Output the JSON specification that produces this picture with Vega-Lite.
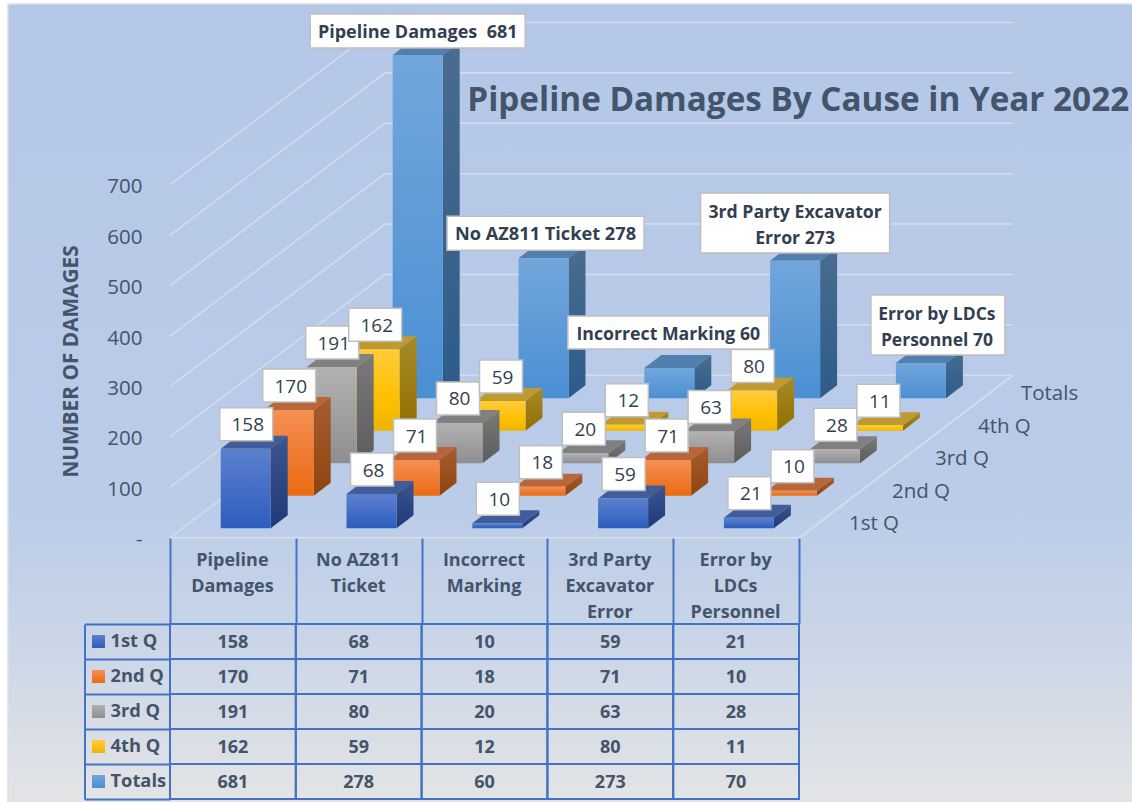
{"$schema":"https://vega.github.io/schema/vega-lite/v6.json","width":1132,"height":802,"padding":0,"autosize":{"type":"none"},"background":"white","view":{"stroke":null},"config":{"axis":{"labels":false,"ticks":false,"domain":false,"grid":false},"view":{"stroke":null}},
"data":{"values":[
{"cause":"Pipeline Damages","quarter":"1st Q","value":158},{"cause":"No AZ811 Ticket","quarter":"1st Q","value":68},{"cause":"Incorrect Marking","quarter":"1st Q","value":10},{"cause":"3rd Party Excavator Error","quarter":"1st Q","value":59},{"cause":"Error by LDCs Personnel","quarter":"1st Q","value":21},
{"cause":"Pipeline Damages","quarter":"2nd Q","value":170},{"cause":"No AZ811 Ticket","quarter":"2nd Q","value":71},{"cause":"Incorrect Marking","quarter":"2nd Q","value":18},{"cause":"3rd Party Excavator Error","quarter":"2nd Q","value":71},{"cause":"Error by LDCs Personnel","quarter":"2nd Q","value":10},
{"cause":"Pipeline Damages","quarter":"3rd Q","value":191},{"cause":"No AZ811 Ticket","quarter":"3rd Q","value":80},{"cause":"Incorrect Marking","quarter":"3rd Q","value":20},{"cause":"3rd Party Excavator Error","quarter":"3rd Q","value":63},{"cause":"Error by LDCs Personnel","quarter":"3rd Q","value":28},
{"cause":"Pipeline Damages","quarter":"4th Q","value":162},{"cause":"No AZ811 Ticket","quarter":"4th Q","value":59},{"cause":"Incorrect Marking","quarter":"4th Q","value":12},{"cause":"3rd Party Excavator Error","quarter":"4th Q","value":80},{"cause":"Error by LDCs Personnel","quarter":"4th Q","value":11},
{"cause":"Pipeline Damages","quarter":"Totals","value":681,"callout":"Pipeline Damages\u00a0 681"},{"cause":"No AZ811 Ticket","quarter":"Totals","value":278,"callout":"No AZ811 Ticket 278"},{"cause":"Incorrect Marking","quarter":"Totals","value":60,"callout":"Incorrect Marking 60"},{"cause":"3rd Party Excavator Error","quarter":"Totals","value":273,"callout":"3rd Party Excavator\nError 273"},{"cause":"Error by LDCs Personnel","quarter":"Totals","value":70,"callout":"Error by LDCs\nPersonnel 70"}
]},
"resolve":{"scale":{"x":"independent","y":"independent"},"axis":{"x":"independent","y":"independent"}},
"layer":[
{"layer":[
{"data":{"values":[{"item":"panel"}]},"mark":{"type":"rect","stroke":"#DDE0E4","strokeWidth":1.5,"fill":{"gradient":"linear","x1":0,"y1":0,"x2":0,"y2":1,"stops":[{"offset":0,"color":"#B4C7E7"},{"offset":0.62,"color":"#BACCE8"},{"offset":0.8,"color":"#CBD6E7"},{"offset":1,"color":"#E5E5E5"}]}},
"encoding":{"x":{"datum":-1.6908,"type":"quantitative","scale":{"domain":[-1.7544,7.244],"nice":false,"zero":false},"axis":{"title":null}},"x2":{"datum":7.3},"y":{"datum":1040.3,"type":"quantitative","scale":{"domain":[-543.06,1048.2],"nice":false,"zero":false}},"y2":{"datum":-560}}},
{"data":{"values":[{"tick":0},{"tick":100},{"tick":200},{"tick":300},{"tick":400},{"tick":500},{"tick":600},{"tick":700}]},
"transform":[{"calculate":"datum.tick-18.7","as":"frontY"},{"calculate":"datum.tick+303.7","as":"backY"}],
"layer":[
{"mark":{"type":"rule","stroke":"#D5DCEA","strokeWidth":1.5},"encoding":{"x":{"datum":-0.4031,"type":"quantitative"},"x2":{"datum":1.3059},"y":{"field":"frontY","type":"quantitative","axis":{"orient":"left","zindex":1,"offset":-142,"values":[0,100,200,300,400,500,600,700],"labels":true,"labelExpr":"datum.value==0?'-':datum.label","labelOffset":11.4,"labelPadding":0,"labelFont":"Open Sans","labelFontSize":20.5,"labelColor":"#44546A","ticks":false,"domain":false,"grid":false,"title":"NUMBER OF DAMAGES","titleFont":"Open Sans","titleFontSize":20.8,"titleFontWeight":"bold","titleColor":"#44546A","titleAngle":-90,"titleX":-71,"titleY":361,"titleAlign":"center","titleBaseline":"middle"}},"y2":{"field":"backY"}}},
{"mark":{"type":"rule","stroke":"#D5DCEA","strokeWidth":1.5},"encoding":{"x":{"datum":1.3059,"type":"quantitative"},"x2":{"datum":6.298},"y":{"field":"backY","type":"quantitative"}}}
]},
{"data":{"values":[{"edge":"floor"}]},"layer":[
{"mark":{"type":"rule","stroke":"#D5DCEA","strokeWidth":2},"encoding":{"x":{"datum":-0.4031,"type":"quantitative"},"x2":{"datum":4.6},"y":{"datum":-18.7,"type":"quantitative"}}},
{"mark":{"type":"rule","stroke":"#D5DCEA","strokeWidth":2},"encoding":{"x":{"datum":4.6,"type":"quantitative"},"x2":{"datum":6.298},"y":{"datum":-18.7,"type":"quantitative"},"y2":{"datum":303.7}}}
]},
{"data":{"values":[{"heading":"Pipeline Damages By Cause in Year 2022"}]},"mark":{"type":"text","align":"left","baseline":"middle","font":"Open Sans","fontSize":33.25,"fontWeight":"bold","color":"#44546A"},"encoding":{"x":{"datum":1.96,"type":"quantitative"},"y":{"datum":848,"type":"quantitative"},"text":{"field":"heading"}}},
{"transform":[
{"calculate":"indexof(['1st Q','2nd Q','3rd Q','4th Q','Totals'],datum.quarter)","as":"depth"},
{"calculate":"indexof(['Pipeline Damages','No AZ811 Ticket','Incorrect Marking','3rd Party Excavator Error','Error by LDCs Personnel'],datum.cause)","as":"col"},
{"calculate":"datum.col+0.3418*datum.depth","as":"xL"},
{"calculate":"datum.xL+0.3975","as":"xR"},
{"calculate":"datum.xL+0.1988","as":"xC"},
{"calculate":"datum.depth*64.48","as":"yB"},
{"calculate":"datum.yB+datum.value","as":"yT"},
{"fold":["near","far"],"as":["corner","unused"]},
{"calculate":"datum.corner=='far'?1:0","as":"k"},
{"calculate":"datum.xR+datum.k*0.1351","as":"sideX"},
{"calculate":"datum.yT+datum.k*25.8","as":"sideTop"},
{"calculate":"datum.yB+datum.k*25.8","as":"sideBase"},
{"calculate":"datum.xL+datum.k*0.1351","as":"topL"},
{"calculate":"datum.xR+datum.k*0.1351","as":"topR"}
],"layer":[
{"transform":[{"filter":"datum.quarter=='Totals'"}],"layer":[
{"mark":{"type":"area","orient":"vertical","fill":{"gradient":"linear","x1":0,"y1":0,"x2":0,"y2":1,"stops":[{"offset":0,"color":"#4A6C8F"},{"offset":1,"color":"#2C5C8A"}]}},"encoding":{"x":{"field":"sideX","type":"quantitative"},"y":{"field":"sideTop","type":"quantitative"},"y2":{"field":"sideBase"},"detail":{"field":"cause"}}},
{"mark":{"type":"area","orient":"horizontal","fill":"#527FAD"},"encoding":{"y":{"field":"sideTop","type":"quantitative"},"x":{"field":"topL","type":"quantitative"},"x2":{"field":"topR"},"detail":{"field":"cause"}}},
{"transform":[{"filter":"datum.corner=='near'"}],"mark":{"type":"rect","fill":{"gradient":"linear","x1":0,"y1":0,"x2":0,"y2":1,"stops":[{"offset":0,"color":"#72A6DC"},{"offset":1,"color":"#4A8FD3"}]}},"encoding":{"x":{"field":"xL","type":"quantitative"},"x2":{"field":"xR"},"y":{"field":"yT","type":"quantitative"},"y2":{"field":"yB"}}}
]},
{"transform":[{"filter":"datum.quarter=='4th Q'"}],"layer":[
{"mark":{"type":"area","orient":"vertical","fill":{"gradient":"linear","x1":0,"y1":0,"x2":0,"y2":1,"stops":[{"offset":0,"color":"#A68A2A"},{"offset":1,"color":"#927000"}]}},"encoding":{"x":{"field":"sideX","type":"quantitative"},"y":{"field":"sideTop","type":"quantitative"},"y2":{"field":"sideBase"},"detail":{"field":"cause"}}},
{"mark":{"type":"area","orient":"horizontal","fill":"#BF9A30"},"encoding":{"y":{"field":"sideTop","type":"quantitative"},"x":{"field":"topL","type":"quantitative"},"x2":{"field":"topR"},"detail":{"field":"cause"}}},
{"transform":[{"filter":"datum.corner=='near'"}],"mark":{"type":"rect","fill":{"gradient":"linear","x1":0,"y1":0,"x2":0,"y2":1,"stops":[{"offset":0,"color":"#FFCC3C"},{"offset":0.6,"color":"#FFC000"},{"offset":1,"color":"#EDB500"}]}},"encoding":{"x":{"field":"xL","type":"quantitative"},"x2":{"field":"xR"},"y":{"field":"yT","type":"quantitative"},"y2":{"field":"yB"}}}
]},
{"transform":[{"filter":"datum.quarter=='3rd Q'"}],"layer":[
{"mark":{"type":"area","orient":"vertical","fill":{"gradient":"linear","x1":0,"y1":0,"x2":0,"y2":1,"stops":[{"offset":0,"color":"#7A7A7A"},{"offset":1,"color":"#5C5C5C"}]}},"encoding":{"x":{"field":"sideX","type":"quantitative"},"y":{"field":"sideTop","type":"quantitative"},"y2":{"field":"sideBase"},"detail":{"field":"cause"}}},
{"mark":{"type":"area","orient":"horizontal","fill":"#808080"},"encoding":{"y":{"field":"sideTop","type":"quantitative"},"x":{"field":"topL","type":"quantitative"},"x2":{"field":"topR"},"detail":{"field":"cause"}}},
{"transform":[{"filter":"datum.corner=='near'"}],"mark":{"type":"rect","fill":{"gradient":"linear","x1":0,"y1":0,"x2":0,"y2":1,"stops":[{"offset":0,"color":"#B2B2B2"},{"offset":1,"color":"#8E8E8E"}]}},"encoding":{"x":{"field":"xL","type":"quantitative"},"x2":{"field":"xR"},"y":{"field":"yT","type":"quantitative"},"y2":{"field":"yB"}}}
]},
{"transform":[{"filter":"datum.quarter=='2nd Q'"}],"layer":[
{"mark":{"type":"area","orient":"vertical","fill":{"gradient":"linear","x1":0,"y1":0,"x2":0,"y2":1,"stops":[{"offset":0,"color":"#A85C2E"},{"offset":1,"color":"#8E4410"}]}},"encoding":{"x":{"field":"sideX","type":"quantitative"},"y":{"field":"sideTop","type":"quantitative"},"y2":{"field":"sideBase"},"detail":{"field":"cause"}}},
{"mark":{"type":"area","orient":"horizontal","fill":"#B8663A"},"encoding":{"y":{"field":"sideTop","type":"quantitative"},"x":{"field":"topL","type":"quantitative"},"x2":{"field":"topR"},"detail":{"field":"cause"}}},
{"transform":[{"filter":"datum.corner=='near'"}],"mark":{"type":"rect","fill":{"gradient":"linear","x1":0,"y1":0,"x2":0,"y2":1,"stops":[{"offset":0,"color":"#F58F54"},{"offset":1,"color":"#EC6A12"}]}},"encoding":{"x":{"field":"xL","type":"quantitative"},"x2":{"field":"xR"},"y":{"field":"yT","type":"quantitative"},"y2":{"field":"yB"}}}
]},
{"transform":[{"filter":"datum.quarter=='1st Q'"}],"layer":[
{"mark":{"type":"area","orient":"vertical","fill":{"gradient":"linear","x1":0,"y1":0,"x2":0,"y2":1,"stops":[{"offset":0,"color":"#3A5590"},{"offset":1,"color":"#1F3A78"}]}},"encoding":{"x":{"field":"sideX","type":"quantitative"},"y":{"field":"sideTop","type":"quantitative"},"y2":{"field":"sideBase"},"detail":{"field":"cause"}}},
{"mark":{"type":"area","orient":"horizontal","fill":"#405C9A"},"encoding":{"y":{"field":"sideTop","type":"quantitative"},"x":{"field":"topL","type":"quantitative"},"x2":{"field":"topR"},"detail":{"field":"cause"}}},
{"transform":[{"filter":"datum.corner=='near'"}],"mark":{"type":"rect","fill":{"gradient":"linear","x1":0,"y1":0,"x2":0,"y2":1,"stops":[{"offset":0,"color":"#5C80CE"},{"offset":1,"color":"#2E5DBE"}]}},"encoding":{"x":{"field":"xL","type":"quantitative"},"x2":{"field":"xR"},"y":{"field":"yT","type":"quantitative"},"y2":{"field":"yB"}}}
]},
{"transform":[{"filter":"datum.corner=='near' && datum.quarter!='Totals'"}],"encoding":{"x":{"field":"xC","type":"quantitative"},"y":{"field":"yT","type":"quantitative"}},"layer":[
{"transform":[{"filter":"datum.value>=100"}],"mark":{"type":"rect","width":53,"height":33,"xOffset":0.5,"yOffset":-24.5,"fill":"white","stroke":"#BFBFBF","strokeWidth":1.5}},
{"transform":[{"filter":"datum.value<100"}],"mark":{"type":"rect","width":43,"height":33,"xOffset":0.5,"yOffset":-24.5,"fill":"white","stroke":"#BFBFBF","strokeWidth":1.5}},
{"mark":{"type":"text","xOffset":2,"yOffset":-23.5,"font":"Open Sans","fontSize":19,"color":"#333F50"},"encoding":{"text":{"field":"value","type":"quantitative"}}}
]},
{"transform":[{"filter":"datum.corner=='near' && datum.cause=='Pipeline Damages' && datum.quarter=='Totals'"}],"encoding":{"x":{"field":"xC","type":"quantitative"},"y":{"field":"yT","type":"quantitative"}},"layer":[
{"mark":{"type":"rect","width":215,"height":34,"yOffset":-24,"fill":"white","stroke":"#BFBFBF","strokeWidth":1.5}},
{"mark":{"type":"text","yOffset":-22,"font":"Open Sans","fontSize":18,"fontWeight":"bold","color":"#333F50","lineBreak":"\n"},"encoding":{"text":{"field":"callout"}}}
]},
{"transform":[{"filter":"datum.corner=='near' && datum.cause=='No AZ811 Ticket' && datum.quarter=='Totals'"}],"encoding":{"x":{"field":"xC","type":"quantitative"},"y":{"field":"yT","type":"quantitative"}},"layer":[
{"mark":{"type":"rect","width":197,"height":34,"xOffset":2,"yOffset":-25,"fill":"white","stroke":"#BFBFBF","strokeWidth":1.5}},
{"mark":{"type":"text","xOffset":2,"yOffset":-23,"font":"Open Sans","fontSize":18.2,"fontWeight":"bold","color":"#333F50","lineBreak":"\n"},"encoding":{"text":{"field":"callout"}}}
]},
{"transform":[{"filter":"datum.corner=='near' && datum.cause=='Incorrect Marking' && datum.quarter=='Totals'"}],"encoding":{"x":{"field":"xC","type":"quantitative"},"y":{"field":"yT","type":"quantitative"}},"layer":[
{"mark":{"type":"rect","width":201,"height":33,"xOffset":-1,"yOffset":-35.5,"fill":"white","stroke":"#BFBFBF","strokeWidth":1.5}},
{"mark":{"type":"text","xOffset":-1,"yOffset":-33.5,"font":"Open Sans","fontSize":17.7,"fontWeight":"bold","color":"#333F50","lineBreak":"\n"},"encoding":{"text":{"field":"callout"}}}
]},
{"transform":[{"filter":"datum.corner=='near' && datum.cause=='3rd Party Excavator Error' && datum.quarter=='Totals'"}],"encoding":{"x":{"field":"xC","type":"quantitative"},"y":{"field":"yT","type":"quantitative"}},"layer":[
{"mark":{"type":"rect","width":189,"height":60,"xOffset":0,"yOffset":-37.7,"fill":"white","stroke":"#BFBFBF","strokeWidth":1.5}},
{"mark":{"type":"text","xOffset":0,"yOffset":-48.2,"font":"Open Sans","fontSize":17.7,"fontWeight":"bold","color":"#333F50","lineBreak":"\n","lineHeight":26.5},"encoding":{"text":{"field":"callout"}}}
]},
{"transform":[{"filter":"datum.corner=='near' && datum.cause=='Error by LDCs Personnel' && datum.quarter=='Totals'"}],"encoding":{"x":{"field":"xC","type":"quantitative"},"y":{"field":"yT","type":"quantitative"}},"layer":[
{"mark":{"type":"rect","width":134,"height":60,"xOffset":17,"yOffset":-38,"fill":"white","stroke":"#BFBFBF","strokeWidth":1.5}},
{"mark":{"type":"text","xOffset":16,"yOffset":-48.5,"font":"Open Sans","fontSize":17.5,"fontWeight":"bold","color":"#333F50","lineBreak":"\n","lineHeight":26.5},"encoding":{"text":{"field":"callout"}}}
]},
{"transform":[{"filter":"datum.corner=='near' && datum.cause=='Error by LDCs Personnel'"},{"calculate":"4.994+0.3418*datum.depth","as":"depthX"},{"calculate":"8.5+datum.yB","as":"depthY"}],"mark":{"type":"text","align":"left","font":"Open Sans","fontSize":20.5,"color":"#44546A"},"encoding":{"x":{"field":"depthX","type":"quantitative"},"y":{"field":"depthY","type":"quantitative"},"text":{"field":"quarter"}}}
]}
]},
{"layer":[
{"mark":{"type":"rect","fill":"transparent","stroke":"#4472C4","strokeWidth":2},"encoding":{
"x":{"field":"cause","type":"nominal","scale":{"domain":["Pipeline Damages","No AZ811 Ticket","Incorrect Marking","3rd Party Excavator Error","Error by LDCs Personnel"],"range":[170,799],"paddingInner":0,"paddingOuter":0},"axis":{"orient":"bottom","offset":-264,"title":null,"labels":true,"ticks":true,"labelAngle":0,"labelAlign":"center","labelBaseline":"top","labelPadding":-73,"labelFont":"Open Sans","labelFontSize":18,"labelFontWeight":"bold","labelColor":"#44546A","labelLineHeight":26,"labelLimit":0,"labelBound":false,"labelOverlap":false,"labelOffset":-1,"domain":false,"grid":false,"tickBand":"extent","tickSize":86,"tickWidth":2,"tickColor":"#4472C4","labelExpr":"{'Pipeline Damages':['Pipeline','Damages'],'No AZ811 Ticket':['No AZ811','Ticket'],'Incorrect Marking':['Incorrect','Marking'],'3rd Party Excavator Error':['3rd Party','Excavator','Error'],'Error by LDCs Personnel':['Error by','LDCs','Personnel']}[datum.value]"}},
"y":{"field":"quarter","type":"nominal","scale":{"domain":["1st Q","2nd Q","3rd Q","4th Q","Totals"],"range":[624,799],"paddingInner":0,"paddingOuter":0},"axis":{"orient":"left","offset":-84.5,"title":null,"labels":true,"ticks":true,"labelAlign":"left","labelPadding":60,"labelFont":"Open Sans","labelFontSize":18.3,"labelFontWeight":"bold","labelColor":"#44546A","labelBound":false,"domain":true,"domainColor":"#4472C4","domainWidth":2,"grid":false,"tickBand":"extent","tickSize":-85.5,"tickWidth":2,"tickColor":"#4472C4"}}}},
{"mark":{"type":"text","yOffset":1,"font":"Open Sans","fontSize":18,"fontWeight":"bold","color":"#44546A"},"encoding":{"x":{"field":"cause","type":"nominal"},"y":{"field":"quarter","type":"nominal"},"text":{"field":"value","type":"quantitative"}}},
{"transform":[{"filter":"datum.cause=='Pipeline Damages'"}],"mark":{"type":"point","shape":"square","filled":true,"size":169,"xOffset":-134.4,"opacity":1},"encoding":{"x":{"field":"cause","type":"nominal"},"y":{"field":"quarter","type":"nominal"},"fill":{"condition":[
{"test":"datum.quarter=='1st Q'","value":{"gradient":"linear","x1":0,"y1":0,"x2":0,"y2":1,"stops":[{"offset":0,"color":"#5C80CE"},{"offset":1,"color":"#2E5DBE"}]}},
{"test":"datum.quarter=='2nd Q'","value":{"gradient":"linear","x1":0,"y1":0,"x2":0,"y2":1,"stops":[{"offset":0,"color":"#F58F54"},{"offset":1,"color":"#EC6A12"}]}},
{"test":"datum.quarter=='3rd Q'","value":{"gradient":"linear","x1":0,"y1":0,"x2":0,"y2":1,"stops":[{"offset":0,"color":"#B2B2B2"},{"offset":1,"color":"#8E8E8E"}]}},
{"test":"datum.quarter=='4th Q'","value":{"gradient":"linear","x1":0,"y1":0,"x2":0,"y2":1,"stops":[{"offset":0,"color":"#FFCC3C"},{"offset":1,"color":"#EDB500"}]}}
],"value":{"gradient":"linear","x1":0,"y1":0,"x2":0,"y2":1,"stops":[{"offset":0,"color":"#72A6DC"},{"offset":1,"color":"#4A8FD3"}]}}}}
]}
]}
